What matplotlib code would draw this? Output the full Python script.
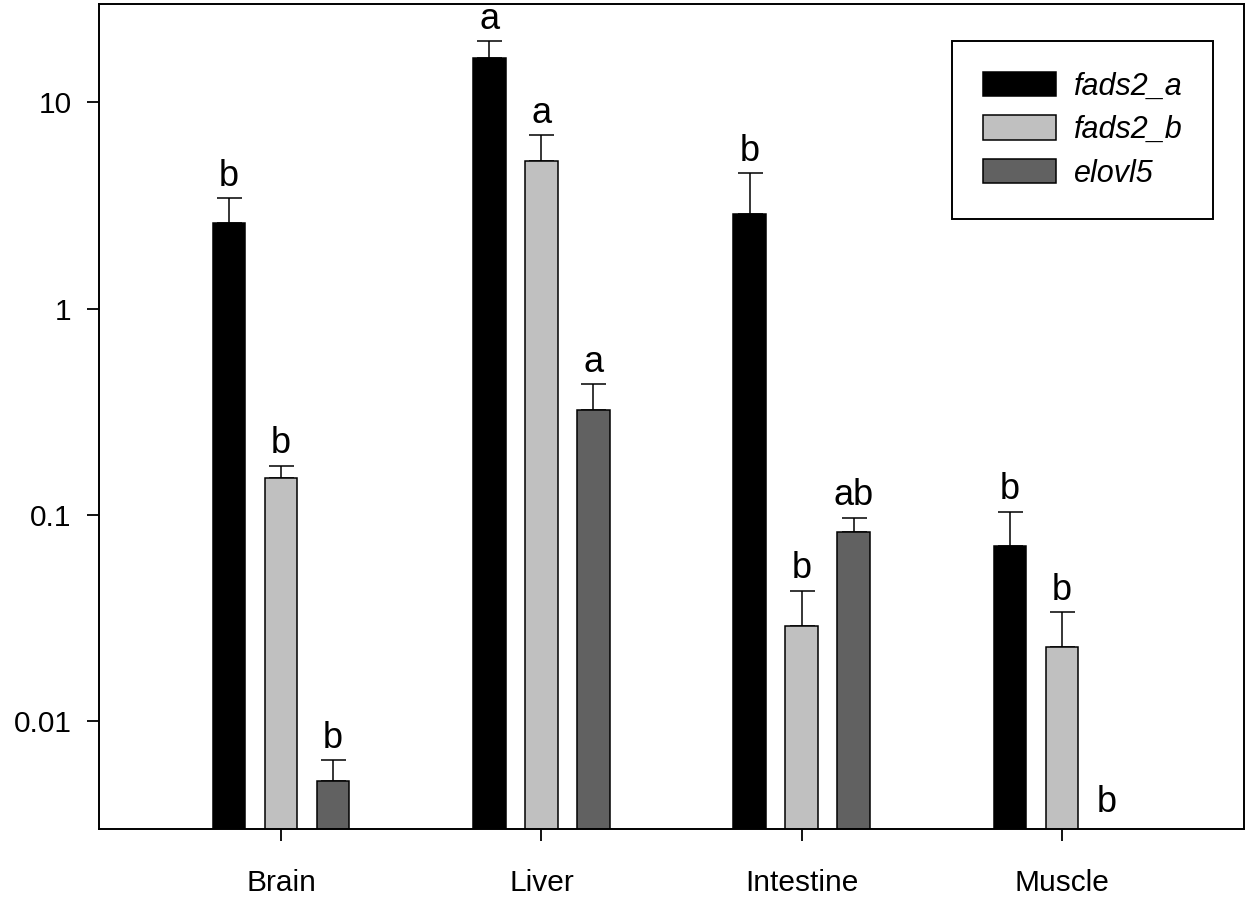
import numpy as np
import matplotlib
matplotlib.use("Agg")
import matplotlib.pyplot as plt
from matplotlib.ticker import FixedLocator, FuncFormatter, NullLocator

plt.rcParams['font.family'] = ['Liberation Sans', 'DejaVu Sans']

tissues = ['Brain', 'Liver', 'Intestine', 'Muscle']
genes = ['fads2_a', 'fads2_b', 'elovl5']

fads2_a = [2.61, 16.4, 2.89, 0.0707]
fads2_a_err = [0.81, 3.4, 1.63, 0.033]
fads2_b = [0.151, 5.2, 0.0289, 0.0229]
fads2_b_err = [0.022, 1.72, 0.0139, 0.0109]
elovl5 = [0.00512, 0.321, 0.0827, np.nan]
elovl5_err = [0.00135, 0.109, 0.014, np.nan]

fads2_a_sig = ['b', 'a', 'b', 'b']
fads2_b_sig = ['b', 'a', 'b', 'b']
elovl5_sig = ['b', 'a', 'ab', 'b']

colors = ['#000000', '#c0c0c0', '#616161']
ymin, ymax = 0.003, 30

fig = plt.figure(figsize=(12.47, 8.99), dpi=100)
ax = fig.add_axes([0.0794, 0.0779, 0.9182, 0.9177])

x = np.arange(len(tissues))
width = 0.125
offsets = [-0.2, 0.0, 0.2]
series = [(fads2_a, fads2_a_err, fads2_a_sig),
          (fads2_b, fads2_b_err, fads2_b_sig),
          (elovl5, elovl5_err, elovl5_sig)]

for i, (vals, errs, sig) in enumerate(series):
    vals = np.array(vals, dtype=float)
    errs = np.array(errs, dtype=float)
    xs = x + offsets[i]
    ax.bar(xs, vals, width, color=colors[i], edgecolor='black',
           linewidth=1.1, label=genes[i], zorder=2)
    ax.errorbar(xs, vals, yerr=[np.zeros_like(errs), errs], fmt='none',
                ecolor='black', elinewidth=1.1, capsize=9, capthick=1.1, zorder=1)
    for xi, v, e, s in zip(xs, vals, errs, sig):
        if np.isnan(v):
            ax.annotate(s, (xi, ymin), xytext=(-5, 12), textcoords='offset points',
                        ha='center', va='baseline', fontsize=26)
        else:
            ax.annotate(s, (xi, v + e), xytext=(0, 9), textcoords='offset points',
                        ha='center', va='baseline', fontsize=26)

ax.set_yscale('log')
ax.set_ylim(ymin, ymax)
ax.set_xlim(-0.7, 3.7)
ax.yaxis.set_major_locator(FixedLocator([0.01, 0.1, 1, 10]))
ax.yaxis.set_major_formatter(FuncFormatter(lambda v, p: '%g' % v))
ax.yaxis.set_minor_locator(NullLocator())
ax.set_xticks(x)
ax.set_xticklabels(tissues)
ax.tick_params(axis='y', direction='out', length=8.6, width=1.3, labelsize=21.5, pad=11)
ax.tick_params(axis='x', direction='out', length=8.6, width=1.3, labelsize=21.5, pad=20)
for sp in ax.spines.values():
    sp.set_linewidth(1.4)

leg = ax.legend(loc='upper left', bbox_to_anchor=(0.745, 0.955),
                prop={'family': 'Liberation Sans', 'style': 'italic', 'size': 22},
                frameon=True, fancybox=False, edgecolor='black', framealpha=1,
                handlelength=2.39, handleheight=0.85, handletextpad=0.6,
                borderpad=1.0, labelspacing=0.44, borderaxespad=0)
leg.get_frame().set_linewidth(1.4)

fig.savefig('out.png', dpi=100)
